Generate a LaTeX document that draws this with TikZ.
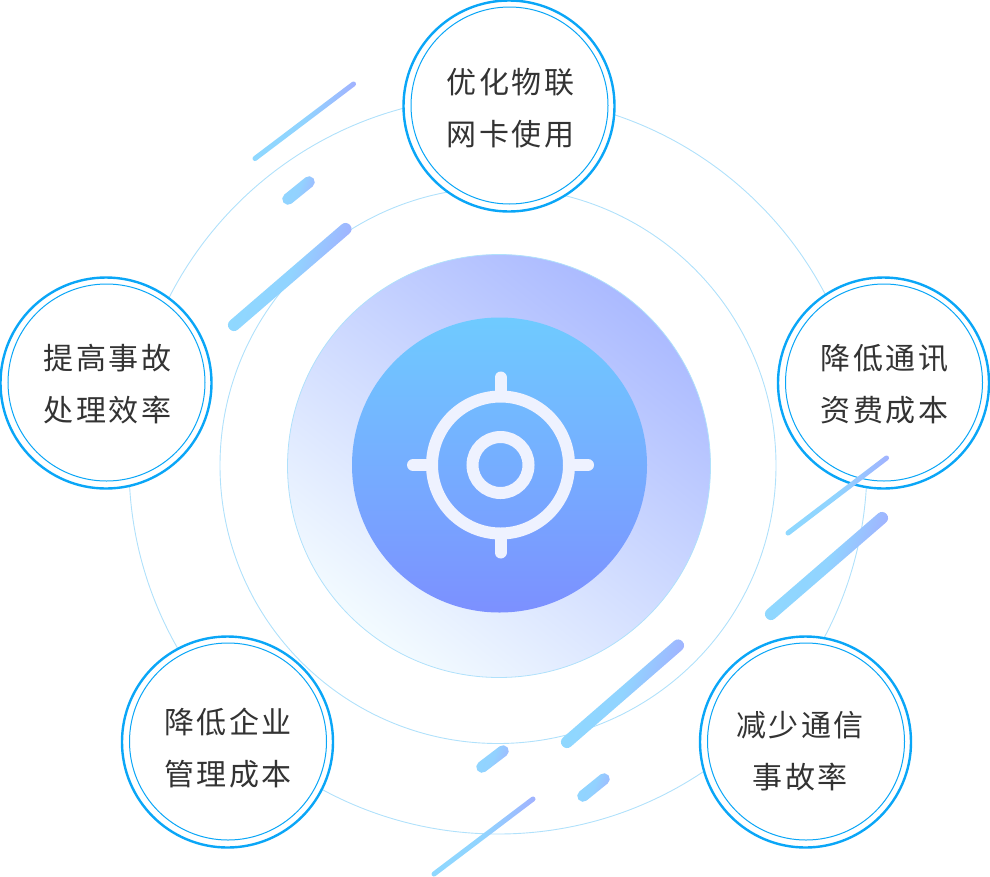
\documentclass[tikz,border=0pt]{standalone}
\usepackage{fontspec}
\newfontfamily\cjk[LetterSpace=8]{Noto Sans CJK SC}
\definecolor{ringc}{HTML}{B0E1FB}
\definecolor{edgec}{HTML}{0AA6F7}
\definecolor{txtc}{HTML}{333333}
\definecolor{iconc}{HTML}{EEF2FF}
\definecolor{barA}{HTML}{8EDAFF}
\definecolor{barB}{HTML}{A8A4FF}
\definecolor{barC}{HTML}{90D6FF}
\definecolor{barD}{HTML}{A2B4FF}
\definecolor{haloA}{HTML}{ABBAFF}
\definecolor{haloB}{HTML}{F3FBFF}
\definecolor{coreA}{HTML}{6FCBFF}
\definecolor{coreB}{HTML}{7C90FF}
\tikzset{
  x=1pt,y=-1pt,
  orbit/.style={circle,draw=ringc,line width=0.9pt,fill=none,inner sep=0pt},
  bubout/.style={circle,draw=edgec,line width=2.4pt,fill=white,minimum size=211pt,inner sep=0pt},
  bubin/.style={circle,draw=edgec,line width=1pt,fill=white,minimum size=197pt,inner sep=0pt},
  lbl/.style={font=\cjk\fontsize{30}{52}\selectfont,text=txtc,align=center,inner sep=0pt},
  iconline/.style={draw=iconc,line width=12pt,line cap=round},
}
% polygon bar with rounded ends, gradient taken over its own bounding box
\newcommand{\slantbar}[7]{%
  \pgfmathsetmacro{\bl}{veclen(#3-#1,#4-#2)}%
  \pgfmathsetmacro{\ux}{(#3-#1)/\bl}%
  \pgfmathsetmacro{\uy}{(#4-#2)/\bl}%
  \pgfmathsetmacro{\hw}{#5/2}%
  \path[left color=#6,right color=#7,middle color=#6!88!#7,shading angle=70,rounded corners=\hw*0.98]
    (#1-\ux*\hw+\uy*\hw,#2-\uy*\hw-\ux*\hw) --
    (#3+\ux*\hw+\uy*\hw,#4+\uy*\hw-\ux*\hw) --
    (#3+\ux*\hw-\uy*\hw,#4+\uy*\hw+\ux*\hw) --
    (#1-\ux*\hw-\uy*\hw,#2-\uy*\hw+\ux*\hw) -- cycle;%
}
\begin{document}
\begin{tikzpicture}
\useasboundingbox (0,0) rectangle (990,876);
% orbits
\node[orbit,minimum size=738pt] (orbA) at (498,465) {};
\node[orbit,minimum size=556pt] (orbB) at (498,465.5) {};
% halo and core
\node[circle,draw=ringc,line width=0.8pt,minimum size=423pt,inner sep=0pt,
  top color=haloA,bottom color=haloB,shading angle=-38] (halo) at (499,466) {};
\node[circle,minimum size=295pt,inner sep=0pt,top color=coreA,bottom color=coreB] (core) at (499.5,465) {};
% icon
\node[circle,draw=iconc,line width=12pt,minimum size=137pt,inner sep=0pt] (iconA) at (500.5,465) {};
\node[circle,draw=iconc,line width=12pt,minimum size=56pt,inner sep=0pt] (iconB) at (500.5,465) {};
\draw[iconline] (iconA.north) -- ++(0,-13);
\draw[iconline] (iconA.south) -- ++(0,13);
\draw[iconline] (iconA.west) -- ++(-13,0);
\draw[iconline] (iconA.east) -- ++(13,0);
% bubbles
\node[bubout] (t1) at (509,106) {};
\node[bubin] (t2) at (509.5,105.5) {};
\node[bubout] (l1) at (106,383) {};
\node[bubin] (l2) at (106.5,382.5) {};
\node[bubout] (r1) at (883.5,383) {};
\node[bubin] (r2) at (884,382.5) {};
\node[bubout] (bl1) at (227.5,742) {};
\node[bubin] (bl2) at (228,741.5) {};
\node[bubout] (br1) at (805.5,742) {};
\node[bubin] (br2) at (806,741.5) {};
\node[lbl] (tt) at (510.5,108) {优化物联\\网卡使用};
\node[lbl] (lt) at (107.5,384.5) {提高事故\\处理效率};
\node[lbl] (rt) at (884.5,384.5) {降低通讯\\资费成本};
\node[lbl] (blt) at (228,748) {降低企业\\管理成本};
\node[lbl] (brt) at (800,751) {减少通信\\事故率};
% bars
\slantbar{255}{158.5}{353.5}{84}{5}{barA}{barB}
\slantbar{288}{199}{309}{182}{11.5}{barC}{barD}
\slantbar{234}{325}{345.5}{229}{12}{barA}{barB}
\slantbar{788}{533}{886.5}{458}{5}{barA}{barB}
\slantbar{771}{614}{882}{518}{12}{barA}{barB}
\slantbar{567}{742}{678}{645.5}{12}{barA}{barB}
\slantbar{482}{767}{503}{751}{11.5}{barC}{barD}
\slantbar{583}{796}{604}{779}{11.5}{barC}{barD}
\slantbar{434}{874}{533}{799}{5}{barA}{barB}
\end{tikzpicture}
\end{document}
